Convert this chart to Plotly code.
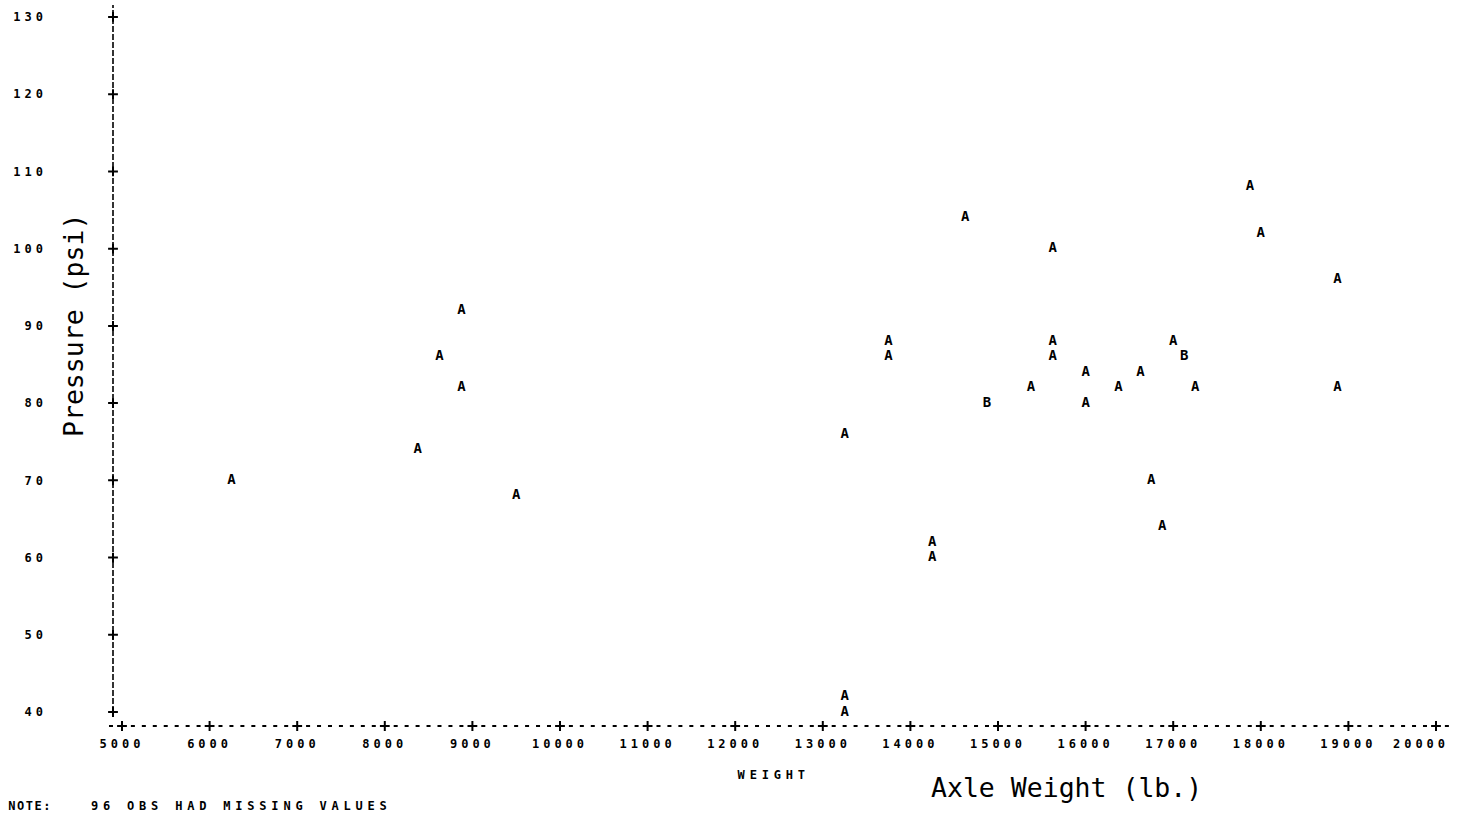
import plotly.graph_objects as go

# Axle weight (lb.) and tire pressure (psi) for each plotted position
weight = [6250, 8375, 8625, 8875, 8875, 9500, 13250, 13250, 13250, 13750, 13750,
          14250, 14250, 14625, 14875, 15375, 15625, 15625, 15625, 16000, 16000,
          16375, 16625, 16750, 16875, 17000, 17125, 17250, 17875, 18000, 18875, 18875]
pressure = [70, 74, 86, 92, 82, 68, 76, 42, 40, 88, 86,
            62, 60, 104, 80, 82, 100, 88, 86, 84, 80,
            82, 84, 70, 64, 88, 86, 82, 108, 102, 96, 82]
# number of observations sharing each position (A = 1 obs, B = 2 obs, ...)
obs_count = [1, 1, 1, 1, 1, 1, 1, 1, 1, 1, 1,
             1, 1, 1, 2, 1, 1, 1, 1, 1, 1,
             1, 1, 1, 1, 1, 2, 1, 1, 1, 1, 1]

x_ticks = list(range(5000, 20001, 1000))
y_ticks = list(range(40, 131, 10))

plot_symbols = [chr(ord("A") + n - 1) for n in obs_count]

# page geometry
W, H = 1457, 817
MARGIN = dict(l=113, r=7, t=5, b=91)
X_RANGE = [4897.3, 20159.8]
Y_RANGE = [38.19, 131.55]

PRINTER = dict(family="DejaVu Sans Mono", size=12, color="black", weight="bold")
TITLE_FONT = dict(family="DejaVu Sans Mono", size=26.5, color="black")


def to_paper(px, py):
    """Convert page pixel coordinates into paper fractions of the plot area."""
    pw = W - MARGIN["l"] - MARGIN["r"]
    ph = H - MARGIN["t"] - MARGIN["b"]
    return (px - MARGIN["l"]) / pw, (H - MARGIN["b"] - py) / ph


fig = go.Figure()

# plotting symbols
fig.add_trace(go.Scatter(
    x=weight, y=pressure, mode="text", text=plot_symbols,
    textposition="middle center",
    textfont=dict(family="DejaVu Sans Mono", size=14, color="black", weight="bold"),
    cliponaxis=False, hoverinfo="x+y", showlegend=False,
))

# "+" tick crosses along both axes
cross = dict(symbol="cross-thin", size=7, line=dict(width=2, color="black"))
fig.add_trace(go.Scatter(
    x=x_ticks, y=[Y_RANGE[0]] * len(x_ticks), mode="markers",
    marker=cross, cliponaxis=False, hoverinfo="skip", showlegend=False,
))
fig.add_trace(go.Scatter(
    x=[X_RANGE[0]] * len(y_ticks), y=y_ticks, mode="markers",
    marker=cross, cliponaxis=False, hoverinfo="skip", showlegend=False,
))

# dashed axis lines
fig.add_shape(type="line", xref="paper", yref="y", x0=0, x1=0,
              y0=y_ticks[0], y1=Y_RANGE[1],
              line=dict(color="black", width=1.6, dash="6px,2px"), layer="below")
fig.add_shape(type="line", xref="paper", yref="paper", x0=-0.003, x1=1,
              y0=0, y1=0,
              line=dict(color="black", width=2, dash="4px,6.95px"), layer="below")

annotations = []
# printer-style captions (indices 0-2 get letter spacing)
for text, (cx, cy) in [("WEIGHT", (773, 775)),
                       ("NOTE:", (30, 806)),
                       ("96 OBS HAD MISSING VALUES", (241, 806))]:
    ax, ay = to_paper(cx, cy)
    annotations.append(dict(text=text, x=ax, y=ay, xref="paper", yref="paper",
                            xanchor="center", yanchor="middle", showarrow=False,
                            font=PRINTER))
# axis titles
ax, ay = to_paper(1066, 787)
annotations.append(dict(text="Axle Weight (lb.)", x=ax, y=ay, xref="paper", yref="paper",
                        xanchor="center", yanchor="middle", showarrow=False,
                        font=TITLE_FONT))
ax, ay = to_paper(73, 326)
annotations.append(dict(text="Pressure (psi)", x=ax, y=ay, xref="paper", yref="paper",
                        xanchor="center", yanchor="middle", showarrow=False,
                        textangle=-90, font=TITLE_FONT))

fig.update_layout(
    width=W, height=H, margin=MARGIN,
    paper_bgcolor="white", plot_bgcolor="white",
    annotations=annotations,
    xaxis=dict(range=X_RANGE, tickvals=x_ticks, ticktext=[str(v) for v in x_ticks],
               ticks="", showgrid=False, zeroline=False, showline=False,
               automargin=False, tickfont=PRINTER, ticklabelstandoff=9,
               ticklabeloverflow="allow"),
    yaxis=dict(range=Y_RANGE, tickvals=y_ticks, ticktext=[str(v) for v in y_ticks],
               ticks="", showgrid=False, zeroline=False, showline=False,
               automargin=False, tickfont=PRINTER, ticklabelstandoff=65),
)

# printer-style letter spacing; the rightmost weight label is nudged
# left so that it stays on the page
spacing_css = (
    "var s=document.createElement('style');"
    "s.textContent='.xtick text,.ytick text{letter-spacing:4px}"
    ".xtick:last-of-type text{translate:-15px 0}"
    ".annotation[data-index=\"0\"] text,"
    ".annotation[data-index=\"2\"] text{letter-spacing:4.8px}"
    ".annotation[data-index=\"1\"] text{letter-spacing:1.5px}';"
    "document.head.appendChild(s);"
)

fig.write_html("out.html", post_script=spacing_css)
